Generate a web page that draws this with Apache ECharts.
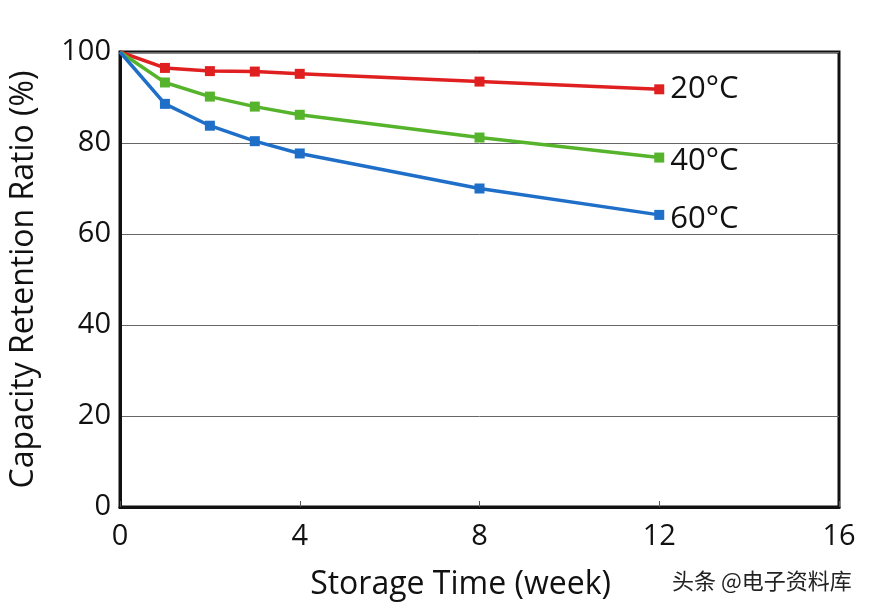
<!DOCTYPE html>
<html><head><meta charset="utf-8">
<script src="https://cdn.jsdelivr.net/npm/echarts@6/dist/echarts.min.js"></script>
<style>html,body{margin:0;padding:0;background:#fff}#c{width:872px;height:614px}</style>
</head><body><div id="c"></div>
<script>
const weeks = [0, 1, 2, 3, 4, 8, 12];
const t20 = [100, 96.5, 95.8, 95.7, 95.2, 93.5, 91.8];
const t40 = [100, 93.3, 90.2, 88.0, 86.2, 81.2, 76.8];
const t60 = [100, 88.6, 83.8, 80.4, 77.7, 70.0, 64.2];
const seriesNames = ['20°C', '40°C', '60°C'];
const colors = ['#e02020', '#56b42c', '#1f6fc9'];
const xTitle = 'Storage Time (week)';
const yTitle = 'Capacity Retention Ratio (%)';
const watermark = '头条 @电子资料库';

const font = '"Open Sans", "Noto Sans", sans-serif';
function mk(name, vals, color, offY) {
  return {
    name, type: 'line',
    data: weeks.map((w, i) => ({ value: [w, vals[i]], symbolSize: i === 0 ? 0 : 10 })),
    symbol: 'rect', showSymbol: true,
    lineStyle: { color, width: 3.5 }, itemStyle: { color },
    label: {
      show: true, position: 'right', distance: 6, offset: [0, offY],
      color: '#111', fontSize: 31, fontFamily: font,
      formatter: p => p.dataIndex === weeks.length - 1 ? name : ''
    },
    z: 3
  };
}
const chart = echarts.init(document.getElementById('c'));
chart.setOption({
  animation: false,
  backgroundColor: '#fff',
  grid: { left: 119, right: 33, top: 52, bottom: 107, show: true, borderColor: '#111', borderWidth: 3, backgroundColor: 'transparent' },
  xAxis: {
    type: 'value', min: 0, max: 16, interval: 4,
    name: xTitle, nameLocation: 'middle', nameGap: 62,
    nameTextStyle: { fontSize: 32, color: '#111', fontFamily: font, padding: [0, 38, 0, 0] },
    axisLine: { lineStyle: { color: '#111', width: 3 } },
    axisTick: { show: true, inside: true, length: 6, lineStyle: { color: '#555', width: 1 } },
    axisLabel: { fontSize: 29, color: '#111', fontFamily: font, margin: 15 },
    splitLine: { show: false }
  },
  yAxis: {
    type: 'value', min: 0, max: 100, interval: 20,
    name: yTitle, nameLocation: 'middle', nameGap: 80,
    nameTextStyle: { fontSize: 32, color: '#111', fontFamily: font },
    axisLine: { show: true, lineStyle: { color: '#111', width: 3 } },
    axisTick: { show: false },
    axisLabel: { fontSize: 29, color: '#111', fontFamily: font, margin: 9 },
    splitLine: { show: true, lineStyle: { color: '#666', width: 1 } }
  },
  series: [mk(seriesNames[0], t20, colors[0], 0), mk(seriesNames[1], t40, colors[1], 4), mk(seriesNames[2], t60, colors[2], 4)],
  graphic: [{
    type: 'text', left: 672, top: 570,
    style: { text: watermark, fontSize: 22, fill: '#222', fontFamily: '"Noto Sans CJK SC", sans-serif' }
  }]
});
</script></body></html>
